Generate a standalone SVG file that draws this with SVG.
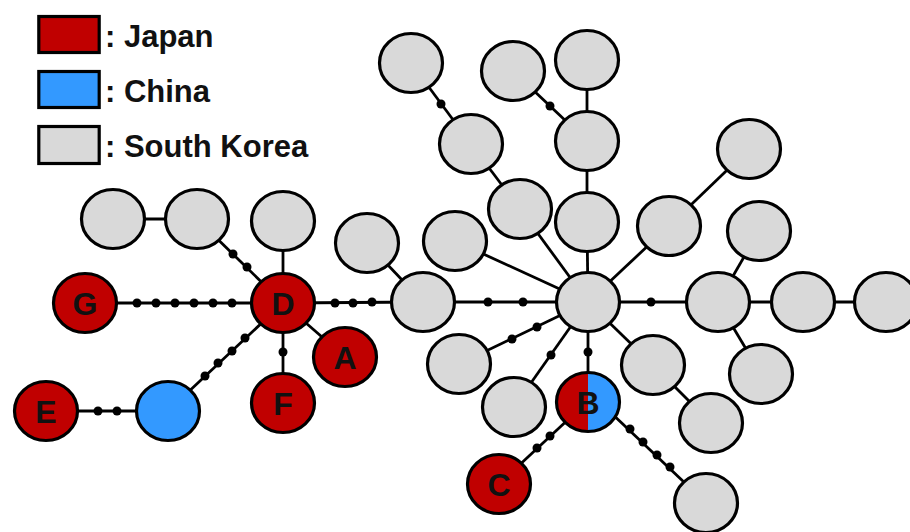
<svg xmlns="http://www.w3.org/2000/svg" width="910" height="532" viewBox="0 0 910 532">
<style>
.jp{fill:#C00000;stroke:#000;stroke-width:3.2}
.cn{fill:#3399FF;stroke:#000;stroke-width:3.2}
.kr{fill:#D9D9D9;stroke:#000;stroke-width:3.2}
.edge line{stroke:#000;stroke-width:2.8}
.edge circle{fill:#000}
.lbl{font-family:"Liberation Sans",Arial,sans-serif;font-weight:bold;font-size:32px;fill:#111;text-anchor:middle}
.leg{font-family:"Liberation Sans",Arial,sans-serif;font-weight:bold;font-size:31px;fill:#111}
</style>
<rect width="910" height="532" fill="#fff"/>
<g id="legend">
<rect class="jp" x="38.8" y="16.5" width="60.4" height="36"/>
<rect class="cn" x="38.8" y="71.5" width="60.4" height="36"/>
<rect class="kr" x="38.8" y="126.5" width="60.4" height="37"/>
<text class="leg" x="105" y="47">: Japan</text>
<text class="leg" x="105" y="102">: China</text>
<text class="leg" x="105" y="157">: South Korea</text>
</g>
<g id="connectors" class="edge">
<line x1="113" y1="219" x2="197" y2="219"/>
<line x1="197" y1="219" x2="283" y2="303"/>
<circle cx="233" cy="254" r="4.5"/><circle cx="247" cy="267" r="4.5"/>
<line x1="283" y1="221" x2="283" y2="303"/>
<line x1="85" y1="303" x2="283" y2="303"/>
<circle cx="137" cy="303" r="4.5"/><circle cx="156" cy="303" r="4.5"/><circle cx="175" cy="303" r="4.5"/><circle cx="194" cy="303" r="4.5"/><circle cx="213" cy="303" r="4.5"/><circle cx="232" cy="303" r="4.5"/>
<line x1="283" y1="303" x2="423" y2="302"/>
<circle cx="335" cy="303" r="4.5"/><circle cx="353" cy="303" r="4.5"/><circle cx="372" cy="302" r="4.5"/>
<line x1="283" y1="303" x2="345" y2="357"/>
<line x1="283" y1="303" x2="283" y2="403"/>
<circle cx="283" cy="352" r="4.5"/>
<line x1="283" y1="303" x2="168" y2="411"/>
<circle cx="245" cy="338" r="4.5"/><circle cx="232" cy="351" r="4.5"/><circle cx="218" cy="363" r="4.5"/><circle cx="205" cy="376" r="4.5"/>
<line x1="46" y1="411" x2="168" y2="411"/>
<circle cx="98" cy="411" r="4.5"/><circle cx="117" cy="411" r="4.5"/>
<line x1="367" y1="243" x2="423" y2="302"/>
<line x1="423" y1="302" x2="588" y2="302"/>
<circle cx="488" cy="302" r="4.5"/><circle cx="523" cy="302" r="4.5"/>
<line x1="411" y1="63" x2="471" y2="144"/>
<circle cx="441" cy="104" r="4.5"/>
<line x1="471" y1="144" x2="520" y2="209"/>
<line x1="520" y1="209" x2="588" y2="302"/>
<line x1="513" y1="71" x2="587" y2="141"/>
<circle cx="550" cy="106" r="4.5"/>
<line x1="587" y1="60" x2="587" y2="141"/>
<line x1="587" y1="141" x2="587" y2="222"/>
<line x1="587" y1="222" x2="588" y2="302"/>
<line x1="455" y1="241" x2="588" y2="302"/>
<line x1="749" y1="149" x2="669" y2="226"/>
<line x1="669" y1="226" x2="588" y2="302"/>
<line x1="588" y1="302" x2="718" y2="302"/>
<circle cx="651" cy="302" r="4.5"/>
<line x1="718" y1="302" x2="759" y2="231"/>
<line x1="718" y1="302" x2="886" y2="302"/>
<line x1="718" y1="302" x2="761" y2="374"/>
<line x1="588" y1="302" x2="653" y2="365"/>
<line x1="653" y1="365" x2="711" y2="423"/>
<line x1="459" y1="364" x2="588" y2="302"/>
<circle cx="512" cy="339" r="4.5"/><circle cx="537" cy="327" r="4.5"/>
<line x1="514" y1="407" x2="588" y2="302"/>
<circle cx="551" cy="355" r="4.5"/>
<line x1="588" y1="302" x2="588" y2="402"/>
<circle cx="588" cy="352" r="4.5"/>
<line x1="499" y1="484" x2="588" y2="401"/>
<circle cx="537" cy="448" r="4.5"/><circle cx="550" cy="436" r="4.5"/>
<line x1="588" y1="391" x2="706" y2="503"/>
<circle cx="630" cy="429" r="4.5"/><circle cx="643" cy="442" r="4.5"/><circle cx="657" cy="455" r="4.5"/><circle cx="670" cy="467" r="4.5"/>
</g>
<g id="n1"><ellipse class="kr" cx="113" cy="219" rx="31.5" ry="29.5"/></g>
<g id="n2"><ellipse class="kr" cx="197" cy="219" rx="31.5" ry="29.5"/></g>
<g id="n3"><ellipse class="kr" cx="283" cy="221" rx="31.5" ry="29.5"/></g>
<g id="nodeG"><ellipse class="jp" cx="85" cy="303" rx="31.5" ry="29.5"/><text class="lbl" x="85" y="314.5">G</text></g>
<g id="nodeD"><ellipse class="jp" cx="283" cy="303" rx="31.5" ry="29.5"/><text class="lbl" x="283" y="314.5">D</text></g>
<g id="nodeA"><ellipse class="jp" cx="345" cy="357" rx="31.5" ry="29.5"/><text class="lbl" x="345" y="368.5">A</text></g>
<g id="nodeF"><ellipse class="jp" cx="283" cy="403" rx="31.5" ry="29.5"/><text class="lbl" x="283" y="414.5">F</text></g>
<g id="nodeE"><ellipse class="jp" cx="46" cy="411" rx="31.5" ry="29.5"/><text class="lbl" x="46" y="422.5">E</text></g>
<g id="china1"><ellipse class="cn" cx="168" cy="411" rx="31.5" ry="29.5"/></g>
<g id="h1"><ellipse class="kr" cx="423" cy="302" rx="31.5" ry="29.5"/></g>
<g id="h1a"><ellipse class="kr" cx="367" cy="243" rx="31.5" ry="29.5"/></g>
<g id="t1"><ellipse class="kr" cx="411" cy="63" rx="31.5" ry="29.5"/></g>
<g id="t2"><ellipse class="kr" cx="513" cy="71" rx="31.5" ry="29.5"/></g>
<g id="t3"><ellipse class="kr" cx="587" cy="60" rx="31.5" ry="29.5"/></g>
<g id="m1"><ellipse class="kr" cx="471" cy="144" rx="31.5" ry="29.5"/></g>
<g id="m2"><ellipse class="kr" cx="587" cy="141" rx="31.5" ry="29.5"/></g>
<g id="u1"><ellipse class="kr" cx="520" cy="209" rx="31.5" ry="29.5"/></g>
<g id="u2"><ellipse class="kr" cx="587" cy="222" rx="31.5" ry="29.5"/></g>
<g id="p1"><ellipse class="kr" cx="455" cy="241" rx="31.5" ry="29.5"/></g>
<g id="hub"><ellipse class="kr" cx="588" cy="302" rx="31.5" ry="29.5"/></g>
<g id="r1"><ellipse class="kr" cx="749" cy="149" rx="31.5" ry="29.5"/></g>
<g id="r2"><ellipse class="kr" cx="669" cy="226" rx="31.5" ry="29.5"/></g>
<g id="r3"><ellipse class="kr" cx="759" cy="231" rx="31.5" ry="29.5"/></g>
<g id="r4"><ellipse class="kr" cx="718" cy="302" rx="31.5" ry="29.5"/></g>
<g id="r5"><ellipse class="kr" cx="803" cy="302" rx="31.5" ry="29.5"/></g>
<g id="r6"><ellipse class="kr" cx="886" cy="302" rx="31.5" ry="29.5"/></g>
<g id="r7"><ellipse class="kr" cx="761" cy="374" rx="31.5" ry="29.5"/></g>
<g id="s1"><ellipse class="kr" cx="653" cy="365" rx="31.5" ry="29.5"/></g>
<g id="s2"><ellipse class="kr" cx="711" cy="423" rx="31.5" ry="29.5"/></g>
<g id="l1"><ellipse class="kr" cx="459" cy="364" rx="31.5" ry="29.5"/></g>
<g id="l2"><ellipse class="kr" cx="514" cy="407" rx="31.5" ry="29.5"/></g>
<g id="nodeB">
<path d="M588 372.5 A31.5 29.5 0 0 0 588 431.5 Z" fill="#C00000"/>
<path d="M588 372.5 A31.5 29.5 0 0 1 588 431.5 Z" fill="#3399FF"/>
<ellipse cx="588" cy="402" rx="31.5" ry="29.5" fill="none" stroke="#000" stroke-width="3.2"/>
<text class="lbl" x="588" y="413.5">B</text>
</g>
<g id="nodeC"><ellipse class="jp" cx="499" cy="484" rx="31.5" ry="29.5"/><text class="lbl" x="499" y="495.5">C</text></g>
<g id="br"><ellipse class="kr" cx="706" cy="503" rx="31.5" ry="29.5"/></g>
</svg>
